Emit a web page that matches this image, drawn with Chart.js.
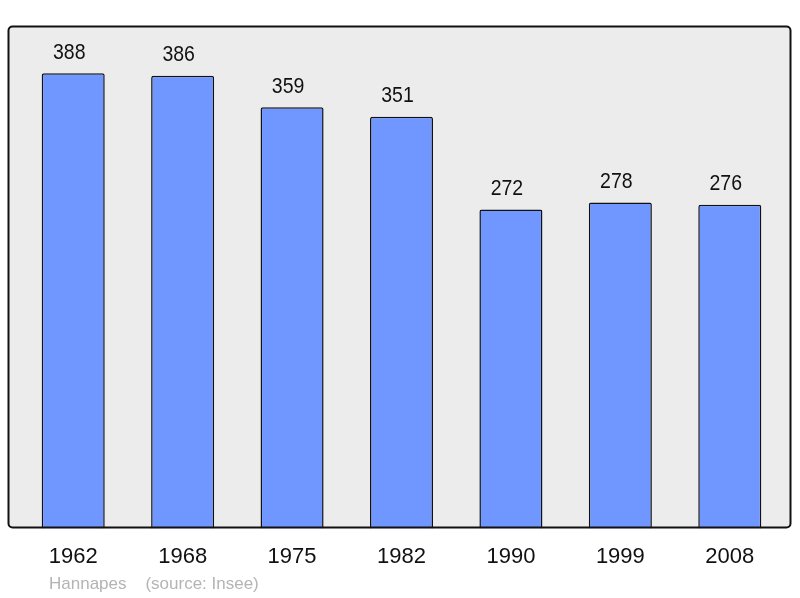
<!DOCTYPE html>
<html>
<head>
<meta charset="utf-8">
<script src="https://cdn.jsdelivr.net/npm/chart.js@4/dist/chart.umd.min.js"></script>
<style>
  html, body { margin: 0; padding: 0; background: #fff; }
  #wrap { width: 800px; height: 598px; }
</style>
</head>
<body>
<div id="wrap"><canvas id="popChart" width="800" height="598"></canvas></div>
<script>
const years = ['1962', '1968', '1975', '1982', '1990', '1999', '2008'];
const population = [388, 386, 359, 351, 272, 278, 276];
const footerText = 'Hannapes    (source: Insee)';

// fond gris + cadre noir autour de la zone de tracé
const frame = {
    id: 'frame',
    beforeDatasetsDraw(chart) {
        const c = chart.ctx;
        c.save();
        c.fillStyle = '#ececec';
        c.beginPath();
        c.roundRect(8.5, 26.5, 782, 501, 4);
        c.fill();
        c.restore();
    },
    afterDatasetsDraw(chart) {
        const c = chart.ctx;
        c.save();
        c.strokeStyle = '#111';
        c.lineWidth = 2;
        c.beginPath();
        c.roundRect(8.5, 26.5, 782, 501, 4);
        c.stroke();

        // valeurs au-dessus des barres (texte un peu étiré en hauteur)
        const meta = chart.getDatasetMeta(0);
        c.fillStyle = '#111';
        c.font = '19.5px "Liberation Sans", Arial, sans-serif';
        c.textAlign = 'center';
        c.textBaseline = 'alphabetic';
        meta.data.forEach((bar, i) => {
            c.save();
            c.translate(bar.x - 4, bar.y - 14.5);
            c.scale(1, 1.12);
            c.fillText(population[i], 0, 0);
            c.restore();
        });

        c.fillStyle = '#b4b4b4';
        c.font = '17px "Liberation Sans", Arial, sans-serif';
        c.textAlign = 'left';
        c.fillText(footerText, 49, 589);
        c.restore();
    }
};

new Chart(document.getElementById('popChart'), {
    type: 'bar',
    data: {
        labels: years,
        datasets: [{
            data: population,
            backgroundColor: '#7096ff',
            borderColor: '#111',
            borderWidth: 1.5,
            borderRadius: 2,
            borderSkipped: 'bottom',
            categoryPercentage: 1,
            barPercentage: 0.576
        }]
    },
    options: {
        responsive: false,
        animation: false,
        layout: { padding: { left: 18.5, right: 15.5, top: 27, bottom: 13 } },
        plugins: {
            legend: { display: false },
            tooltip: { enabled: false }
        },
        scales: {
            x: {
                offset: true,
                grid: { display: false, drawTicks: false },
                border: { display: false },
                ticks: {
                    color: '#111',
                    padding: 15,
                    font: { family: '"Liberation Sans", Arial, sans-serif', size: 22 }
                }
            },
            y: {
                display: false,
                min: 0,
                max: 427.5
            }
        }
    },
    plugins: [frame]
});
</script>
</body>
</html>
